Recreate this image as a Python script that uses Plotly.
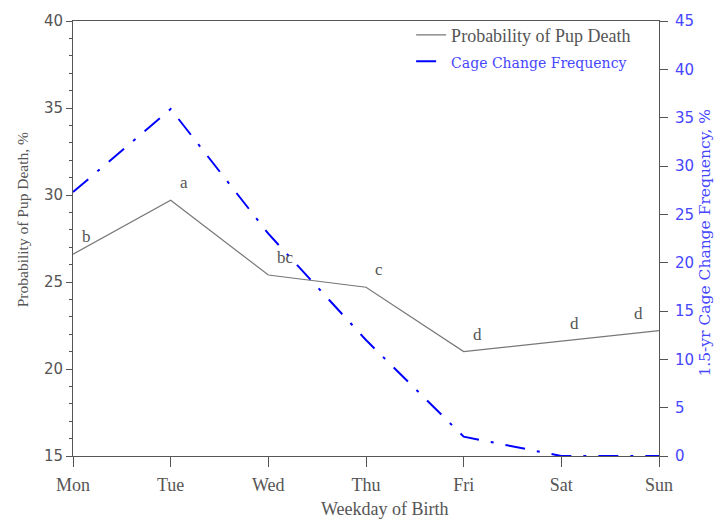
import plotly.graph_objects as go

days = ["Mon", "Tue", "Wed", "Thu", "Fri", "Sat", "Sun"]
pup_death = [26.6, 29.7, 25.4, 24.7, 21.0, 21.6, 22.2]
cage_change = [27.3, 35.9, 23.0, 12.0, 2.0, 0.0, 0.0]
letters = ["b", "a", "bc", "c", "d", "d", "d"]

SERIF = "Liberation Serif"
WIDE_SERIF = "DejaVu Serif"
SANS = "DejaVu Sans"
GRAY = "#555555"
BLUE = "#0000ff"
BLUE_TXT = "#4646ff"

fig = go.Figure()
fig.add_trace(go.Scatter(
    x=days, y=pup_death, mode="lines", name="Probability of Pup Death",
    legendgroup="a",
    line=dict(color="#777777", width=1.2), yaxis="y"))
fig.add_trace(go.Scatter(
    x=days, y=cage_change, mode="lines",
    name="<span style='color:%s;font-family:%s;font-size:14px'>Cage Change Frequency</span>" % (BLUE_TXT, WIDE_SERIF),
    legendgroup="b",
    line=dict(color=BLUE, width=2, dash="20px,12px,3px,12px"), yaxis="y2"))

annotations = []
for i, (d, v, t) in enumerate(zip(days, pup_death, letters)):
    last = i == len(days) - 1
    annotations.append(dict(
        x=d, y=v, xref="x", yref="y", text=t, showarrow=False,
        xanchor="right" if last else "left", yanchor="bottom",
        xshift=-14 if last else 7, yshift=6,
        font=dict(family=SERIF, size=17, color=GRAY)))

# axis titles
annotations.append(dict(
    text="Probability of Pup Death, %", xref="paper", yref="paper",
    x=-0.087, y=0.542, xanchor="center", yanchor="middle", textangle=-90,
    showarrow=False, font=dict(family=SERIF, size=15.5, color=GRAY)))
annotations.append(dict(
    text="1.5-yr Cage Change Frequency, %", xref="paper", yref="paper",
    x=1.078, y=0.49, xanchor="center", yanchor="middle", textangle=-90,
    showarrow=False, font=dict(family=WIDE_SERIF, size=15.5, color=BLUE_TXT)))
annotations.append(dict(
    text="Weekday of Birth", xref="paper", yref="paper",
    x=0.532, y=-0.122, xanchor="center", yanchor="middle",
    showarrow=False, font=dict(family=SERIF, size=18, color=GRAY)))

fig.update_layout(
    width=717, height=525,
    margin=dict(l=73, r=58, t=13, b=69),
    plot_bgcolor="white", paper_bgcolor="white",
    font=dict(family=SERIF, size=16, color=GRAY),
    showlegend=True,
    legend=dict(x=0.577, y=1.01, xanchor="left", yanchor="top",
                bgcolor="rgba(0,0,0,0)", font=dict(family=SERIF, size=18, color=GRAY),
                itemwidth=30, tracegroupgap=0),
    xaxis=dict(
        type="category", range=[0, 6], showgrid=False, zeroline=False,
        showline=True, linecolor=GRAY, linewidth=1, mirror=True,
        ticks="outside", ticklen=10, tickcolor=GRAY, ticklabelstandoff=2,
        tickfont=dict(family=SERIF, size=18, color=GRAY)),
    yaxis=dict(
        range=[15, 40], dtick=5, showgrid=False, zeroline=False,
        showline=True, linecolor=GRAY, linewidth=1,
        ticks="outside", ticklen=6, tickcolor=GRAY,
        minor=dict(dtick=1, ticks="outside", ticklen=3, tickcolor=GRAY),
        tickfont=dict(family=SANS, size=15, color=GRAY)),
    yaxis2=dict(
        range=[0, 45], dtick=5, overlaying="y", side="right",
        showgrid=False, zeroline=False,
        showline=True, linecolor=GRAY, linewidth=1,
        ticks="outside", ticklen=8, tickcolor=GRAY, ticklabelstandoff=4,
        tickfont=dict(family=SANS, size=15, color=BLUE_TXT)),
    annotations=annotations,
)

fig.write_html("out.html")
